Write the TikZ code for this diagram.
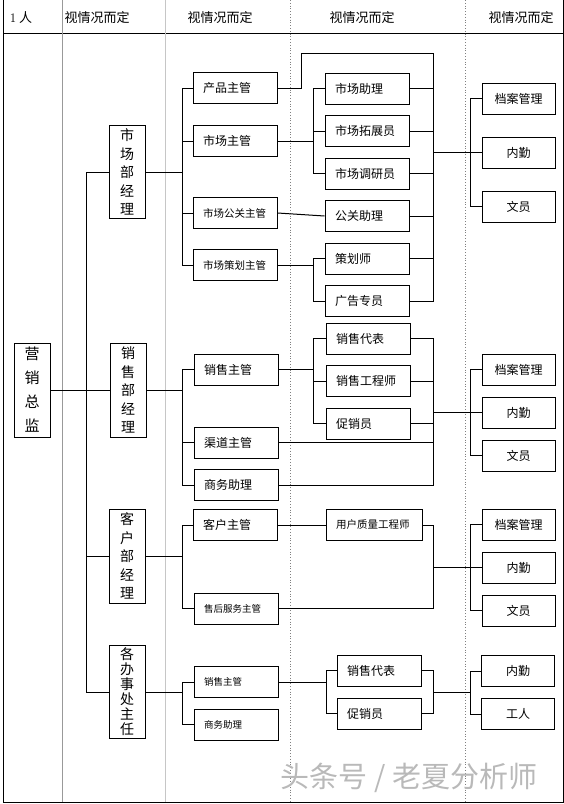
\documentclass[tikz,border=0pt]{standalone}
\usepackage{fontspec}
\newfontfamily\cjk{Noto Sans CJK SC}
\usetikzlibrary{positioning}

\tikzset{
  box/.style={draw, line width=1pt, inner sep=0pt, minimum height=31pt,
    font=\cjk\fontsize{12}{14}\selectfont},
  midbox/.style={box, minimum width=84pt, inner xsep=10pt, text width=64pt, align=left},
  sidebox/.style={box, minimum width=73pt},
  headbox/.style={draw, line width=1pt, inner sep=0pt, minimum width=36pt,
    minimum height=93pt, align=center, font=\cjk\fontsize{14}{18.5}\selectfont},
  small/.style={font=\cjk\fontsize{9.5}{11}\selectfont},
  narrow/.style={font=\cjk\fontsize{10.5}{12}\selectfont},
  headtext/.style={font=\cjk\fontsize{13}{15}\selectfont},
  link/.style={line width=1pt}
}

\begin{document}
\begin{tikzpicture}[x=1pt,y=-1pt]
   \useasboundingbox (0,0) rectangle (564,804);
   % table
   \draw[line width=1pt] (3,0) -- (3,802) -- (563,802) -- (563,0);
   \draw[line width=1pt] (3,33) -- (563,33);
   \draw[gray!80, line width=0.8pt] (62,0) -- (62,802);
   \draw[gray!45, line width=1pt] (165,0) -- (165,802);
   \draw[gray, dotted, line width=0.8pt] (290,0) -- (290,802);
   \draw[gray, dotted, line width=0.8pt] (465,0) -- (465,802);
   \node[headtext] (h0) at (21,18) {{\rmfamily 1} 人};
   \node[headtext] (h1) at (97,18) {视情况而定};
   \node[headtext] (h2) at (220,18) {视情况而定};
   \node[headtext] (h3) at (362,18) {视情况而定};
   \node[headtext] (h4) at (521,18) {视情况而定};

   % managers
   \node[headbox, minimum height=94pt, font=\cjk\fontsize{15}{24}\selectfont] (chief) at (32,390) {营\\销\\总\\监};
   \node[headbox] (mkmgr) at (127,172) {市\\场\\部\\经\\理};
   \node[headbox, minimum height=94pt] (slmgr) at (128,390) {销\\售\\部\\经\\理};
   \node[headbox, minimum height=94pt] (csmgr) at (127,556) {客\\户\\部\\经\\理};
   \node[headbox, font=\cjk\fontsize{14}{15}\selectfont] (ofmgr) at (127,692) {各\\办\\事\\处\\主\\任};

   % market
   \node[midbox] (prod) at (235,88) {产品主管};
   \node[midbox] (mkmain) at (235,141) {市场主管};
   \node[midbox, narrow] (pr) at (235,213) {市场公关主管};
   \node[midbox, narrow] (plan) at (235,265) {市场策划主管};
   \node[midbox] (mkasst) at (367,88.5) {市场助理};
   \node[midbox] (mkext) [below=10.5pt of mkasst] {市场拓展员};
   \node[midbox] (mkres) [below=10.5pt of mkext] {市场调研员};
   \node[midbox] (prasst) [below=10.5pt of mkres] {公关助理};
   \node[midbox] (planner) [below=10.5pt of prasst] {策划师};
   \node[midbox] (advert) [below=10.5pt of planner] {广告专员};
   \node[sidebox] (fileA) at (518.5,98.5) {档案管理};
   \node[sidebox] (deskA) [below=22pt of fileA] {内勤};
   \node[sidebox] (clerkA) [below=22pt of deskA] {文员};

   % sales
   \node[midbox] (slsup) at (236,369.5) {销售主管};
   \node[midbox] (channel) at (236,442.5) {渠道主管};
   \node[midbox] (bizB) [below=10.5pt of channel] {商务助理};
   \node[midbox] (rep) at (368,338.5) {销售代表};
   \node[midbox] (seng) [below=10.5pt of rep] {销售工程师};
   \node[midbox] (promo) [below=10.5pt of seng] {促销员};
   \node[sidebox] (fileB) at (518.5,369.5) {档案管理};
   \node[sidebox] (deskB) [below=11pt of fileB] {内勤};
   \node[sidebox] (clerkB) [below=11pt of deskB] {文员};

   % customers
   \node[midbox] (cssup) at (235,525) {客户主管};
   \node[midbox, small] (after) at (236,608.5) {售后服务主管};
   \node[midbox, narrow, minimum width=96pt, text width=76pt] (qeng) at (374,525) {用户质量工程师};
   \node[sidebox] (fileC) at (518.5,524.5) {档案管理};
   \node[sidebox] (deskC) [below=11pt of fileC] {内勤};
   \node[sidebox] (clerkC) [below=11pt of deskC] {文员};

   % offices
   \node[midbox, small] (ofsup) at (236,682) {销售主管};
   \node[midbox, small] (bizD) [below=10.5pt of ofsup] {商务助理};
   \node[midbox] (repD) at (379,670.5) {销售代表};
   \node[midbox] (promoD) [below=11pt of repD] {促销员};
   \node[sidebox] (deskD) at (518,671) {内勤};
   \node[sidebox] (workD) [below=11pt of deskD] {工人};

   \node[text=gray!55, font=\cjk\fontsize{29}{30}\selectfont] (mark) at (409,778) {头条号 / 老夏分析师};

   \coordinate (trunk) at (86,0);
   \coordinate (fork) at (182,0);
   \coordinate (split) at (313,0);
   \coordinate (splitD) at (326,0);
   \coordinate (bus) at (433.5,0);
   \coordinate (merge) at (470,0);
   \coordinate (kink) at (301,53);
   \coordinate (bustop) at (433.5,53);

   % trunk
   \path[link]
    (chief.east) edge (slmgr.west)
    (mkmgr.west -| trunk) edge (ofmgr.west -| trunk)
    (mkmgr.west -| trunk) edge (mkmgr.west)
    (csmgr.west -| trunk) edge (csmgr.west)
    (ofmgr.west -| trunk) edge (ofmgr.west);

   % market
   \draw[link] (prod.east) -| (kink) -- (bustop);
   \path[link]
    (mkmgr.east) edge (mkmgr.east -| fork)
    (prod.west -| fork) edge (plan.west -| fork)
    (prod.west -| fork) edge (prod.west)
    (mkmain.west -| fork) edge (mkmain.west)
    (pr.west -| fork) edge (pr.west)
    (plan.west -| fork) edge (plan.west)
    (mkmain.east) edge (mkmain.east -| split)
    (mkasst.west -| split) edge (mkres.west -| split)
    (mkasst.west -| split) edge (mkasst.west)
    (mkext.west -| split) edge (mkext.west)
    (mkres.west -| split) edge (mkres.west)
    (pr.east) edge (prasst.west)
    (plan.east) edge (plan.east -| split)
    (planner.west -| split) edge (advert.west -| split)
    (planner.west -| split) edge (planner.west)
    (advert.west -| split) edge (advert.west)
    (bustop) edge (advert.east -| bus)
    (mkasst.east) edge (mkasst.east -| bus)
    (mkext.east) edge (mkext.east -| bus)
    (mkres.east) edge (mkres.east -| bus)
    (prasst.east) edge (prasst.east -| bus)
    (planner.east) edge (planner.east -| bus)
    (advert.east) edge (advert.east -| bus)
    (deskA.west -| bus) edge (deskA.west)
    (fileA.west -| merge) edge (clerkA.west -| merge)
    (fileA.west -| merge) edge (fileA.west)
    (clerkA.west -| merge) edge (clerkA.west);

   % sales
   \path[link]
    (slmgr.east) edge (slmgr.east -| fork)
    (slsup.west -| fork) edge (bizB.west -| fork)
    (slsup.west -| fork) edge (slsup.west)
    (channel.west -| fork) edge (channel.west)
    (bizB.west -| fork) edge (bizB.west)
    (slsup.east) edge (slsup.east -| split)
    (rep.west -| split) edge (promo.west -| split)
    (rep.west -| split) edge (rep.west)
    (seng.west -| split) edge (seng.west)
    (promo.west -| split) edge (promo.west)
    (rep.east -| bus) edge (bizB.east -| bus)
    (rep.east) edge (rep.east -| bus)
    (seng.east) edge (seng.east -| bus)
    (promo.east) edge (promo.east -| bus)
    (channel.east) edge (channel.east -| bus)
    (bizB.east) edge (bizB.east -| bus)
    (deskB.west -| bus) edge (deskB.west)
    (fileB.west -| merge) edge (clerkB.west -| merge)
    (fileB.west -| merge) edge (fileB.west)
    (clerkB.west -| merge) edge (clerkB.west);

   % customers
   \path[link]
    (csmgr.east) edge (csmgr.east -| fork)
    (cssup.west -| fork) edge (after.west -| fork)
    (cssup.west -| fork) edge (cssup.west)
    (after.west -| fork) edge (after.west)
    (cssup.east) edge (qeng.west)
    (qeng.east -| bus) edge (after.east -| bus)
    (qeng.east) edge (qeng.east -| bus)
    (after.east) edge (after.east -| bus)
    (deskC.west -| bus) edge (deskC.west)
    (fileC.west -| merge) edge (clerkC.west -| merge)
    (fileC.west -| merge) edge (fileC.west)
    (clerkC.west -| merge) edge (clerkC.west);

   % offices
   \path[link]
    (ofmgr.east) edge (ofmgr.east -| fork)
    (ofsup.west -| fork) edge (bizD.west -| fork)
    (ofsup.west -| fork) edge (ofsup.west)
    (bizD.west -| fork) edge (bizD.west)
    (ofsup.east) edge (ofsup.east -| splitD)
    (repD.west -| splitD) edge (promoD.west -| splitD)
    (repD.west -| splitD) edge (repD.west)
    (promoD.west -| splitD) edge (promoD.west)
    (repD.east -| bus) edge (promoD.east -| bus)
    (repD.east) edge (repD.east -| bus)
    (promoD.east) edge (promoD.east -| bus)
    (ofmgr.east -| bus) edge (ofmgr.east -| merge)
    (deskD.west -| merge) edge (workD.west -| merge)
    (deskD.west -| merge) edge (deskD.west)
    (workD.west -| merge) edge (workD.west);
\end{tikzpicture}
\end{document}
